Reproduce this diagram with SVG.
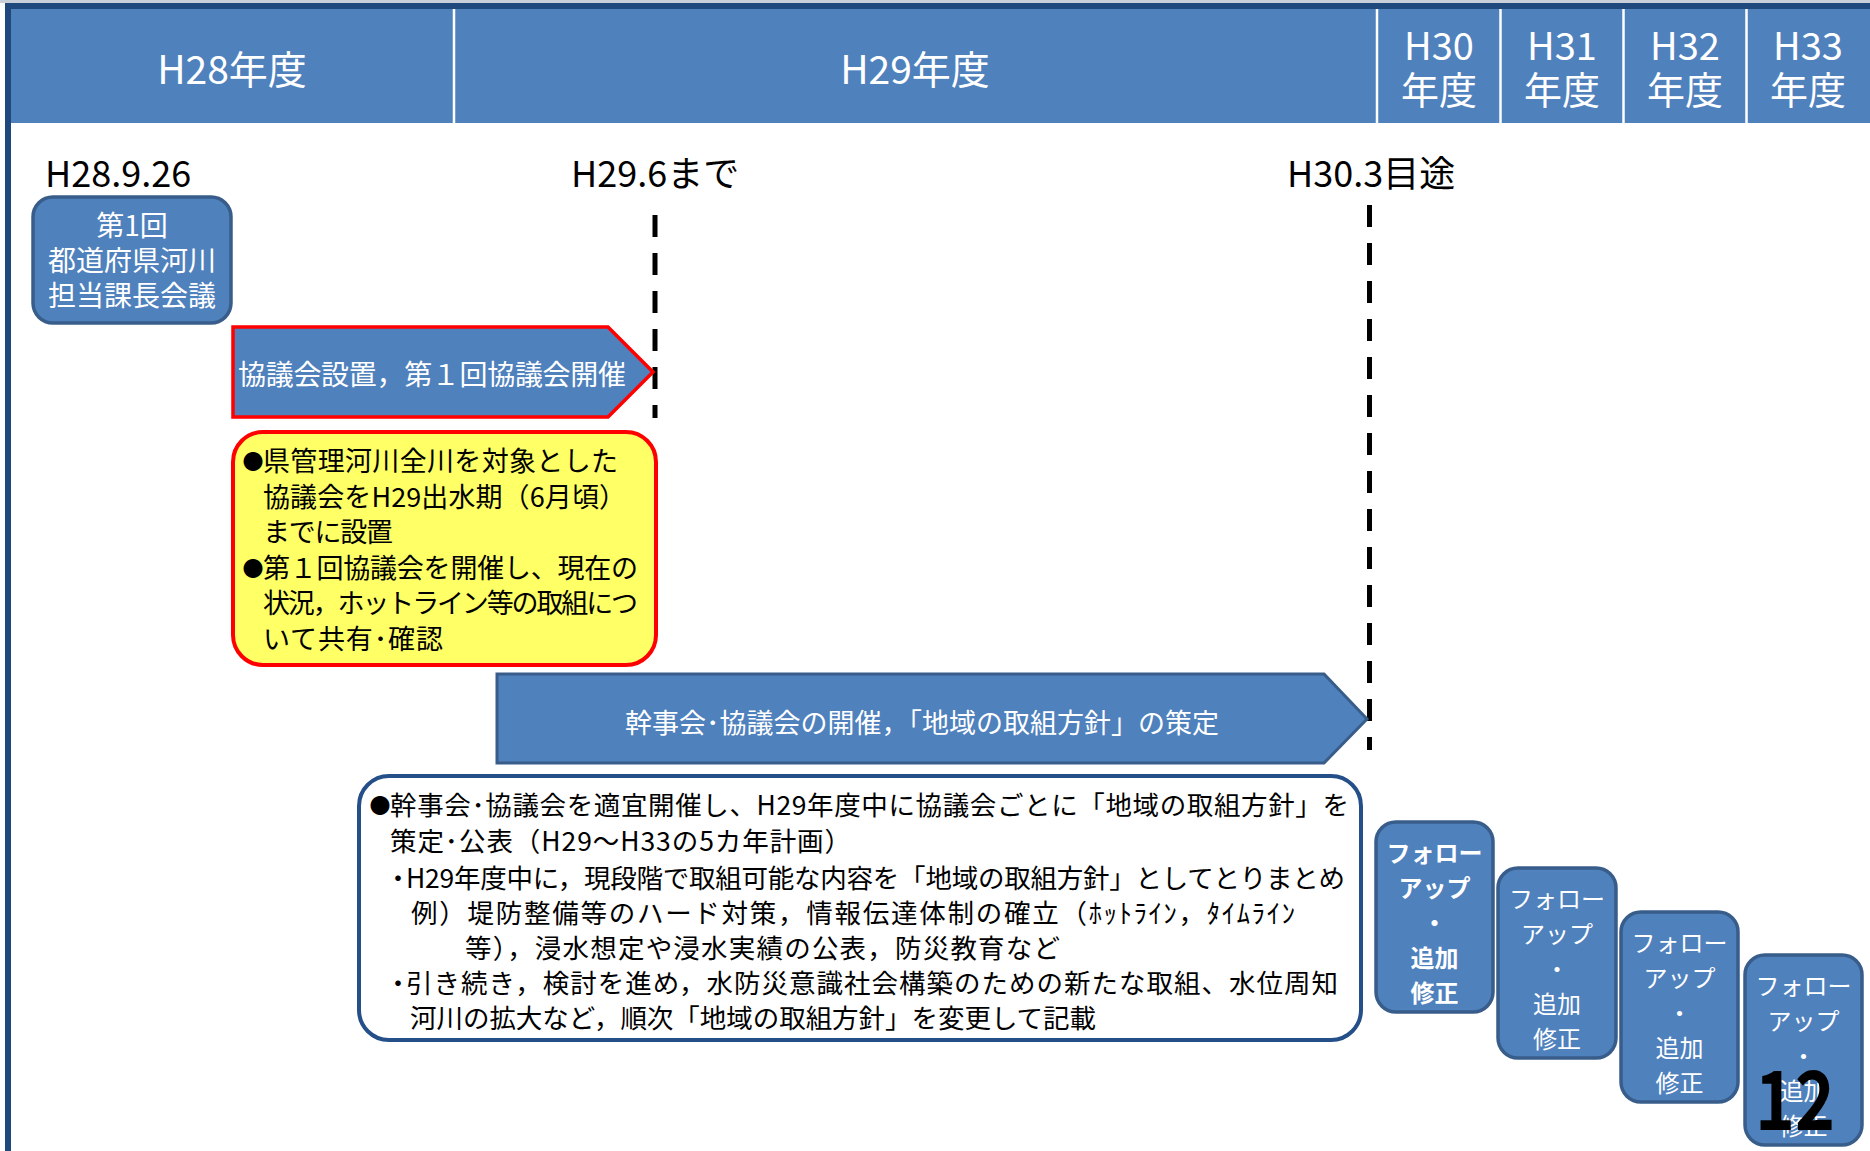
<svg xmlns="http://www.w3.org/2000/svg" width="1870" height="1151" viewBox="0 0 1870 1151">
<defs>
<style>
text{font-family:"Noto Sans CJK JP","Noto Sans CJK SC",sans-serif;}
.hdr{fill:#FFFFFF;font-size:39px;text-anchor:middle;}
.hdr2{fill:#FFFFFF;font-size:38px;text-anchor:middle;}
.div{stroke:#FFFFFF;stroke-width:2.5;}
.date{fill:#000000;font-size:36px;}
.blue{fill:#4F81BD;stroke:#385D8A;stroke-width:3.5;}
.wt{fill:#FFFFFF;}
.bk{fill:#000000;}
.dot{font-size:21px;text-anchor:middle;}
.dash{stroke:#000000;stroke-width:5;stroke-dasharray:22 16;fill:none;}
.fu{fill:#FFFFFF;font-size:24px;text-anchor:middle;}
</style>
</defs>
<rect width="1870" height="1151" fill="#FFFFFF"/>
<g id="header">
<rect x="0" y="0" width="1870" height="3" fill="#C9D0DA"/>
<rect x="5" y="3" width="1865" height="6" fill="#1F497D"/>
<rect x="5" y="3" width="6" height="1148" fill="#1F497D"/>
<rect x="11" y="9" width="1859" height="114" fill="#4F81BD"/>
<line class="div" x1="454" y1="9" x2="454" y2="123"/>
<line class="div" x1="1377" y1="9" x2="1377" y2="123"/>
<line class="div" x1="1500.5" y1="9" x2="1500.5" y2="123"/>
<line class="div" x1="1623.5" y1="9" x2="1623.5" y2="123"/>
<line class="div" x1="1746.5" y1="9" x2="1746.5" y2="123"/>
<text class="hdr" x="232" y="84">H28年度</text>
<text class="hdr" x="915" y="84">H29年度</text>
<text class="hdr2" x="1439" y="60">H30</text><text class="hdr2" x="1439" y="104">年度</text>
<text class="hdr2" x="1562" y="60">H31</text><text class="hdr2" x="1562" y="104">年度</text>
<text class="hdr2" x="1685" y="60">H32</text><text class="hdr2" x="1685" y="104">年度</text>
<text class="hdr2" x="1808" y="60">H33</text><text class="hdr2" x="1808" y="104">年度</text>
</g>
<g id="dates">
<text class="date" x="45" y="187">H28.9.26</text>
<text class="date" x="571" y="187">H29.6まで</text>
<text class="date" x="1287" y="187">H30.3目途</text>
</g>
<g id="connectors">
<line class="dash" x1="655" y1="215" x2="655" y2="418"/>
<line class="dash" x1="1369.5" y1="205" x2="1369.5" y2="750"/>
</g>
<g id="node-kachoukaigi">
<rect class="blue" x="33" y="197" width="198" height="126" rx="20"/>
<text class="wt" font-size="28" text-anchor="middle" x="132" y="236">第1回</text>
<text class="wt" font-size="28" text-anchor="middle" x="132" y="271">都道府県河川</text>
<text class="wt" font-size="28" text-anchor="middle" x="132" y="306">担当課長会議</text>
</g>
<g id="node-kyougikai-setchi">
<polygon points="233,327 608,327 653,372 608,417 233,417" fill="#4F81BD" stroke="#FF0000" stroke-width="3.5"/>
<text class="wt" font-size="28" x="238" y="385" textLength="388">協議会設置，第１回協議会開催</text>
</g>
<g id="node-yellow">
<rect x="233" y="432" width="423" height="233" rx="30" fill="#FFFF66" stroke="#FF0000" stroke-width="4"/>
<g class="bk" font-size="27">
<text class="dot" x="253" y="469">●</text>
<text x="263" y="471" textLength="355">県管理河川全川を対象とした</text>
<text x="263" y="506.5" textLength="363">協議会をH29出水期（6月頃）</text>
<text x="263" y="542" textLength="130">までに設置</text>
<text class="dot" x="253" y="575.5">●</text>
<text x="263" y="577.5" textLength="375">第１回協議会を開催し、現在の</text>
<text x="263" y="613" textLength="375">状況，ホットライン等の取組につ</text>
<text x="263" y="648.5" textLength="180">いて共有･確認</text>
</g>
</g>
<g id="node-kanjikai">
<polygon points="497,674 1324,674 1367,719 1324,763 497,763" fill="#4F81BD" stroke="#385D8A" stroke-width="3"/>
<text class="wt" font-size="27" x="922" y="733" text-anchor="middle">幹事会･協議会の開催，「地域の取組方針」の策定</text>
</g>
<g id="node-hoshin">
<rect x="359" y="776" width="1002" height="264" rx="30" fill="#FFFFFF" stroke="#254F88" stroke-width="4"/>
<g class="bk" font-size="26.5">
<text class="dot" x="380" y="813">●</text>
<text x="390" y="815" textLength="959">幹事会･協議会を適宜開催し、H29年度中に協議会ごとに「地域の取組方針」を</text>
<text x="390" y="851" textLength="461">策定･公表（H29～H33の5カ年計画）</text>
<text x="398" y="888" text-anchor="middle">・</text>
<text x="406" y="888" textLength="939">H29年度中に，現段階で取組可能な内容を「地域の取組方針」としてとりまとめ</text>
<text x="411" y="923" textLength="884">例）堤防整備等のハード対策，情報伝達体制の確立（ﾎｯﾄﾗｲﾝ，ﾀｲﾑﾗｲﾝ</text>
<text x="465" y="958" textLength="595">等），浸水想定や浸水実績の公表，防災教育など</text>
<text x="398" y="993" text-anchor="middle">・</text>
<text x="406" y="993" textLength="932">引き続き，検討を進め，水防災意識社会構築のための新たな取組、水位周知</text>
<text x="410" y="1028" textLength="686">河川の拡大など，順次「地域の取組方針」を変更して記載</text>
</g>
</g>
<g id="node-followup-h30">
<rect class="blue" x="1376" y="822" width="117" height="190" rx="20" stroke-width="4.5"/>
<g class="fu" font-weight="bold">
<text x="1434.5" y="862">フォロー</text><text x="1434.5" y="897">アップ</text><text x="1434.5" y="932">・</text><text x="1434.5" y="967">追加</text><text x="1434.5" y="1002">修正</text>
</g>
</g>
<g id="node-followup-h31">
<rect class="blue" x="1498" y="868" width="118" height="190" rx="20" stroke-width="4.5"/>
<g class="fu">
<text x="1557" y="908">フォロー</text><text x="1557" y="943">アップ</text><text x="1557" y="978">・</text><text x="1557" y="1013">追加</text><text x="1557" y="1048">修正</text>
</g>
</g>
<g id="node-followup-h32">
<rect class="blue" x="1621" y="912" width="117" height="190" rx="20" stroke-width="4.5"/>
<g class="fu">
<text x="1679.5" y="952">フォロー</text><text x="1679.5" y="987">アップ</text><text x="1679.5" y="1022">・</text><text x="1679.5" y="1057">追加</text><text x="1679.5" y="1092">修正</text>
</g>
</g>
<g id="node-followup-h33">
<rect class="blue" x="1745" y="955" width="117" height="190" rx="20" stroke-width="4.5"/>
<g class="fu">
<text x="1803.5" y="995">フォロー</text><text x="1803.5" y="1030">アップ</text><text x="1803.5" y="1065">・</text><text x="1803.5" y="1100">追加</text><text x="1803.5" y="1135">修正</text>
</g>
</g>
<g id="page-number">
<text x="1755" y="1130" font-family="Liberation Sans, Arial, sans-serif" font-size="82" font-weight="bold" fill="#000000" textLength="80" lengthAdjust="spacingAndGlyphs">12</text>
</g>
</svg>
